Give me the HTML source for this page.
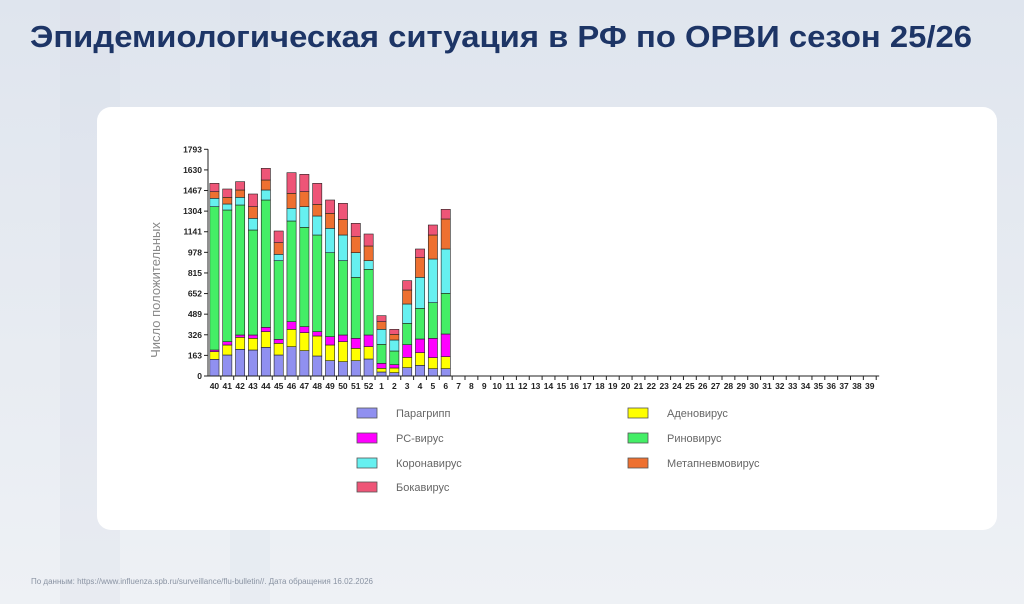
<!DOCTYPE html>
<html><head><meta charset="utf-8">
<style>
html,body{margin:0;padding:0;width:1024px;height:604px;overflow:hidden;font-family:"Liberation Sans",sans-serif;}
body{background:linear-gradient(180deg,#dfe5ee 0%,#e8ecf2 60%,#eef1f5 100%);}
</style></head><body>
<svg id="s" width="1024" height="604" xmlns="http://www.w3.org/2000/svg" style="position:absolute;left:0;top:0">
<rect x="60" y="0" width="60" height="604" fill="#d6dde8" opacity="0.25"/>
<rect x="230" y="0" width="40" height="604" fill="#d9e0ea" opacity="0.25"/>
<rect x="97" y="107" width="900" height="423" rx="14" fill="#ffffff"/>
<text x="30" y="47" font-size="31" font-weight="bold" fill="#1d3566" textLength="942" lengthAdjust="spacingAndGlyphs">Эпидемиологическая ситуация в РФ по ОРВИ сезон 25/26</text>
<text x="31" y="584" font-size="8" fill="#8a93a3">По данным: https://www.influenza.spb.ru/surveillance/flu-bulletin//. Дата обращения 16.02.2026</text>
<text transform="translate(160,290) rotate(-90)" font-size="13" fill="#888" text-anchor="middle">Число положительных</text>
<g id="ax"></g>
</svg>
<script>
var s=document.getElementById('ax'),ns='http://www.w3.org/2000/svg';
function el(t,a,txt){var e=document.createElementNS(ns,t);for(var k in a)e.setAttribute(k,a[k]);if(txt!=null)e.textContent=txt;s.appendChild(e);return e;}
var y0=376,y1=149.3;function Y(v){return y0-(v/1793)*(y0-y1);}
var cols=['#9090f0','#ffff00','#ff00ff','#44ee66','#66f0f0','#ee7030','#ee5577'];
var d=[[658,635,630,200,175,155,130],[645,615,605,210,192,172,147],[628,592,585,195,172,150,125],[630,595,585,270,235,200,162],[622,575,562,180,150,120,85],[645,610,598,362,343,308,273],[620,568,545,243,205,160,98],[632,578,560,262,200,155,103],[648,588,575,285,228,193,130],[662,615,590,338,265,220,180],[665,605,585,362,285,238,190],[662,625,595,412,338,290,250],[657,620,585,388,362,318,282],[696,685,670,613,568,545,527],[698,684,674,633,600,583,568],[683,652,614,550,492,450,422],[676,638,597,505,412,353,327],[686,653,595,488,357,285,255],[686,650,582,460,327,237,208]];
var x0=208,w=12.85;
d.forEach(function(b,i){var cx=x0+(i+0.5)*w,prev=y0;b.forEach(function(zy,j){var y=140+zy/3;el('rect',{x:cx-4.6,y:y,width:9.2,height:Math.max(0,prev-y),fill:cols[j],stroke:'#222','stroke-width':0.6});prev=y;});});
el('line',{x1:x0,y1:y0,x2:x0,y2:y1,stroke:'#222','stroke-width':1});
el('line',{x1:x0,y1:y0,x2:x0+52*w+3,y2:y0,stroke:'#222','stroke-width':1});
[0,163,326,489,652,815,978,1141,1304,1467,1630,1793].forEach(function(v){var y=Y(v);el('line',{x1:x0-4,y1:y,x2:x0,y2:y,stroke:'#222'});el('text',{x:x0-6,y:y+3,'font-size':8.5,'font-weight':'bold','text-anchor':'end',fill:'#222'},v);});
var labs=[];for(var k=40;k<=52;k++)labs.push(k);for(k=1;k<=39;k++)labs.push(k);
labs.forEach(function(l,i){var cx=x0+(i+0.5)*w;el('line',{x1:x0+(i+1)*w,y1:y0,x2:x0+(i+1)*w,y2:y0+4,stroke:'#222'});el('text',{x:cx,y:y0+13,'font-size':8.5,'font-weight':'bold','text-anchor':'middle',fill:'#222'},l);});
var leg=[['Парагрипп',0,357,413],['РС-вирус',2,357,438],['Коронавирус',4,357,463],['Бокавирус',6,357,487],['Аденовирус',1,628,413],['Риновирус',3,628,438],['Метапневмовирус',5,628,463]];
leg.forEach(function(L){el('rect',{x:L[2],y:L[3]-5,width:20,height:10,fill:cols[L[1]],stroke:'#555','stroke-width':0.8});el('text',{x:L[2]+39,y:L[3]+4,'font-size':11,fill:'#666'},L[0]);});
</script>
</body></html>
